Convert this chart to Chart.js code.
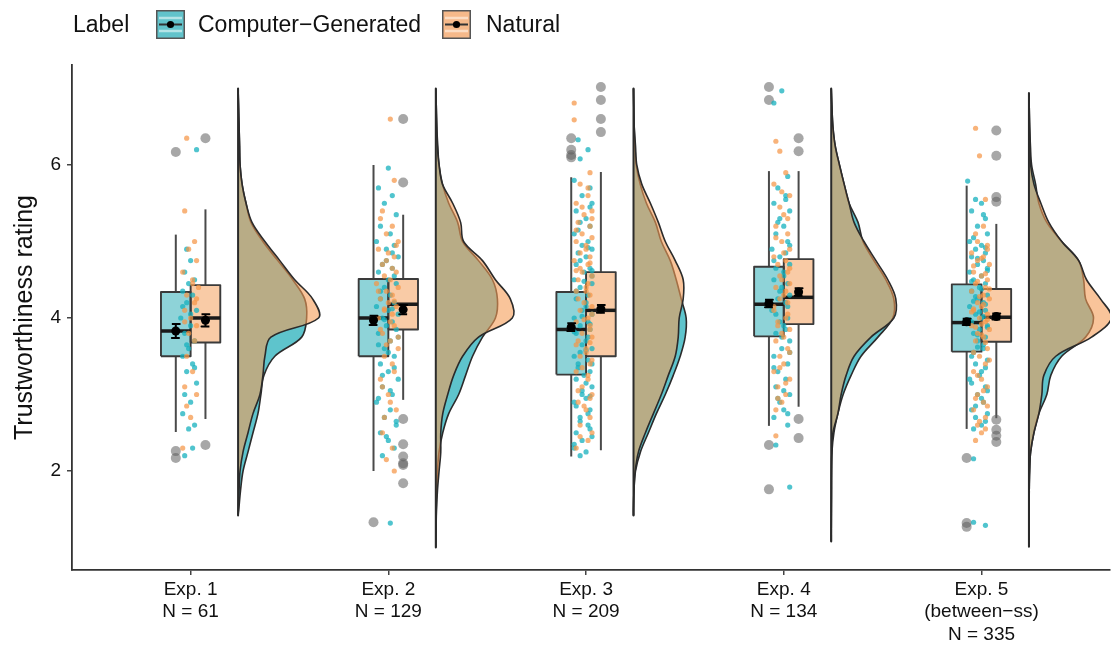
<!DOCTYPE html>
<html>
<head>
<meta charset="utf-8">
<script src="https://cdn.jsdelivr.net/npm/chart.js@4.4.1/dist/chart.umd.min.js"></script>
<style>
  body { margin: 0; background: #fff; }
  #wrap { position: relative; width: 1115px; height: 655px; font-family: 'Liberation Sans', Arial, sans-serif; color: #111; }
  #wrap canvas { position: absolute; left: 0; top: 0; }
  .lg { position: absolute; top: 8px; font-size: 23px; line-height: 32px; white-space: nowrap; }
  .key { position: absolute; top: 10px; }
</style>
</head>
<body>
<div id="wrap">
  <canvas id="chart" width="1115" height="655"></canvas>
  <span class="lg" style="left:73px">Label</span>
  <div id="legend"></div>
</div>
<script>
// categories and tick labels
const categories = ["Exp. 1", "Exp. 2", "Exp. 3", "Exp. 4", "Exp. 5"];
const categoryNotes = ["", "", "", "", "(between\u2212ss)"];
const sampleSizes = [61, 129, 209, 134, 335];
const yTicks = [2, 4, 6];
const seriesNames = ["Computer\u2212Generated", "Natural"];

// box stats: [lower whisker, q1, median, q3, upper whisker]
const boxCG = [[2.51, 3.50, 3.83, 4.34, 5.09], [2.00, 3.50, 4.00, 4.51, 6.00], [2.19, 3.26, 3.85, 4.34, 5.84], [2.59, 3.76, 4.18, 4.67, 5.92], [2.55, 3.56, 3.94, 4.44, 5.73]];
const boxNat = [[2.68, 3.68, 4.00, 4.43, 5.42], [2.93, 3.85, 4.18, 4.51, 5.35], [2.27, 3.50, 4.10, 4.60, 5.91], [2.84, 3.92, 4.27, 4.77, 5.92], [2.69, 3.69, 4.01, 4.38, 5.23]];

// means and standard errors
const meanCG = [3.83, 3.97, 3.88, 4.19, 3.95];
const seCG = [0.09, 0.06, 0.05, 0.05, 0.04];
const meanNat = [3.97, 4.11, 4.12, 4.34, 4.02];
const seNat = [0.08, 0.06, 0.05, 0.05, 0.04];

// outliers
const outCG = [[6.17, 2.26, 2.17], [1.33], [6.35, 6.20, 6.13, 6.10], [7.02, 6.85, 2.34, 1.76], [2.17, 1.32, 1.27]];
const outNat = [[6.35, 2.34], [6.60, 5.77, 2.68, 2.35, 2.19, 2.10, 2.08, 1.84], [7.02, 6.85, 6.60, 6.43], [6.35, 6.18, 2.68, 2.43], [6.45, 6.12, 5.58, 5.52, 2.67, 2.54, 2.46, 2.38]];

// density estimates (relative heights) on a rating grid
const densityGrid = [7, 6.75, 6.5, 6.25, 6, 5.75, 5.5, 5.25, 5, 4.75, 4.5, 4.25, 4, 3.75, 3.5, 3.25, 3, 2.75, 2.5, 2.25, 2, 1.75, 1.5, 1.25, 1];
const densityRange = [[1.42, 7.0], [1.0, 7.0], [1.42, 7.0], [1.08, 7.0], [1.01, 6.94]];
const densCG = [
  [0, 0.5, 1, 1.5, 2, 4, 8, 13, 25, 40, 55, 67, 69, 64, 37, 26, 23, 20, 15, 10, 5, 2.5, 0.7, 0, 0],
  [0, 0.5, 1, 2, 3.3, 6.7, 13, 22, 27, 43, 57, 62, 60, 47, 37, 30, 23, 13, 7, 3.3, 1.7, 1, 0.5, 0.3, 0],
  [0, 0.3, 0.7, 1.5, 2.7, 6.7, 13, 22, 28, 37, 43, 48, 53, 52, 47, 40, 32, 23, 15, 7, 2, 0.5, 0, 0, 0],
  [0, 0.7, 1.7, 4, 8.3, 13, 18, 27, 32, 43, 55, 63, 62, 47, 30, 20, 12, 6.7, 2.7, 0.7, 0.3, 0.2, 0.1, 0, 0],
  [0, 0.3, 0.7, 1.5, 2.7, 6.7, 10, 18, 33, 50, 55, 57, 65, 57, 33, 22, 18, 10, 5, 1.7, 0.7, 0.3, 0.2, 0.1, 0]
];
const densNat = [
  [0, 0.5, 1, 1.5, 2, 4, 8, 14, 27, 42, 57, 75, 81, 33, 27, 25, 22, 15, 10, 5, 2, 1, 0.3, 0, 0],
  [0, 0.5, 1, 1.5, 3.3, 6.7, 17, 25, 28, 47, 60, 75, 77, 43, 27, 18, 12, 7, 5, 5, 3.3, 1.7, 0.7, 0.3, 0],
  [0, 0.3, 0.7, 2, 3.3, 8.3, 17, 25, 32, 42, 50, 50, 46, 45, 42, 35, 28, 20, 12, 5, 1.7, 0.5, 0, 0, 0],
  [0, 0.7, 1.7, 4, 8.3, 13, 18, 23, 33, 45, 57, 65, 63, 40, 23, 15, 10, 6.7, 1.7, 0.7, 0.3, 0.2, 0.1, 0, 0],
  [0, 0.3, 0.7, 1.2, 1.7, 5, 12, 20, 33, 50, 58, 72, 83, 63, 27, 15, 13, 10, 5, 1.7, 0.7, 0.3, 0.2, 0.1, 0]
];

// raw ratings: [jitter offset, rating]
const ptsCG1 = [[0.03,6.2],[-0.02,4.9],[0.0,4.75],[-0.03,4.6],[0.02,4.5],[-0.01,4.45],[-0.04,4.35],[0.01,4.3],[-0.02,4.2],[0.03,4.1],[-0.05,4.0],[0.0,3.9],[-0.03,3.8],[0.02,3.7],[-0.01,3.6],[-0.04,3.5],[0.01,3.4],[-0.02,3.3],[0.03,3.15],[-0.03,3.0],[0.0,2.9],[-0.04,2.75],[0.02,2.6],[-0.01,2.55],[0.01,2.3],[-0.03,2.2],
  [0.0,4.05],[-0.02,3.65],[0.02,3.35],[-0.04,4.15]];
const ptsNat1 = [[-0.02,6.35],[-0.03,5.4],[0.02,5.0],[-0.01,4.9],[0.03,4.75],[-0.04,4.6],[0.01,4.5],[0.04,4.4],[-0.02,4.3],[0.02,4.2],[-0.03,4.1],[0.0,4.0],[0.03,3.9],[-0.01,3.8],[0.02,3.7],[-0.02,3.5],[0.01,3.3],[-0.03,3.1],[0.03,3.0],[-0.02,2.85],[0.0,2.7],[-0.04,2.3],
  [0.01,4.45],[-0.03,3.95],[0.03,4.25]];
const ptsCG2 = [[0.0,5.96],[-0.05,5.7],[0.02,5.6],[-0.02,5.5],[0.04,5.35],[-0.04,5.2],[0.01,5.1],[-0.06,5.0],[0.03,4.95],[-0.01,4.9],[0.05,4.8],[-0.03,4.7],[0.02,4.65],[-0.05,4.6],[0.0,4.5],[0.04,4.45],[-0.02,4.4],[0.01,4.3],[-0.04,4.25],[0.03,4.2],[-0.06,4.15],[0.0,4.1],[0.05,4.05],[-0.03,4.0],[0.02,3.95],[-0.01,3.9],[0.04,3.85],[-0.05,3.8],[0.01,3.7],[-0.02,3.6],[0.03,3.5],[-0.04,3.4],[0.0,3.3],[0.05,3.2],[-0.03,3.1],[0.02,3.0],[-0.06,2.9],[0.01,2.8],[-0.02,2.7],[0.04,2.6],[-0.04,2.5],[0.0,2.4],[0.03,2.3],[-0.03,2.2],[0.01,1.32],
  [-0.01,4.75],[0.03,4.55],[-0.04,4.35],[0.02,4.12],[-0.02,3.98],[0.05,3.75],[-0.05,3.65],[0.0,3.55],[0.03,3.35],[-0.03,3.25],[0.01,3.05],[-0.05,2.95],[0.04,2.65],[-0.01,2.45],[0.02,4.85]];
const ptsNat2 = [[0.01,6.6],[0.03,5.8],[-0.04,5.3],[0.02,5.2],[-0.01,5.1],[0.05,5.0],[-0.05,4.9],[0.0,4.85],[0.03,4.8],[-0.03,4.7],[0.04,4.6],[-0.02,4.55],[0.01,4.5],[-0.06,4.45],[0.05,4.4],[-0.01,4.35],[0.02,4.3],[-0.04,4.25],[0.0,4.2],[0.04,4.15],[-0.02,4.1],[0.02,4.05],[-0.05,4.0],[0.03,3.9],[-0.03,3.8],[0.01,3.7],[0.05,3.6],[-0.02,3.5],[0.02,3.4],[-0.04,3.2],[0.0,3.0],[0.04,2.8],[-0.03,2.5],[0.02,2.3],[-0.01,2.15],[0.03,2.0],
  [-0.03,5.4],[0.04,4.95],[-0.01,4.75],[0.02,4.65],[-0.05,4.35],[0.03,4.22],[-0.02,4.12],[0.01,3.95],[-0.04,3.85],[0.05,3.75],[-0.01,3.65],[0.03,3.3],[-0.03,3.1],[0.01,2.9],[-0.02,2.7]];
const ptsCG3 = [[-0.04,6.33],[0.01,6.2],[-0.03,6.08],[-0.06,5.8],[0.02,5.7],[-0.02,5.6],[0.03,5.5],[-0.05,5.4],[0.0,5.3],[-0.03,5.25],[0.02,5.2],[-0.06,5.1],[0.01,5.0],[-0.02,4.95],[0.03,4.9],[-0.04,4.85],[0.0,4.8],[-0.05,4.7],[0.02,4.65],[-0.01,4.6],[-0.06,4.5],[0.03,4.45],[-0.03,4.4],[0.01,4.3],[-0.05,4.25],[0.0,4.2],[-0.02,4.1],[0.03,4.05],[-0.06,4.0],[0.01,3.95],[-0.03,3.9],[0.02,3.85],[-0.05,3.8],[0.0,3.7],[-0.02,3.65],[0.03,3.6],[-0.06,3.5],[0.01,3.45],[-0.04,3.4],[0.02,3.3],[-0.01,3.25],[-0.05,3.2],[0.03,3.1],[-0.02,3.0],[0.0,2.95],[-0.06,2.9],[0.02,2.8],[-0.03,2.7],[0.01,2.6],[-0.05,2.5],[0.03,2.45],[-0.02,2.4],[-0.06,2.3],[0.0,2.25],[-0.03,2.2],
  [0.02,5.45],[-0.04,5.15],[0.01,4.92],[-0.03,4.75],[0.03,4.55],[-0.05,4.35],[0.0,4.15],[-0.02,4.02],[0.02,3.92],[-0.06,3.82],[0.01,3.75],[-0.03,3.55],[0.03,3.4],[-0.04,3.35],[0.0,3.15],[-0.02,3.05],[0.02,2.98],[-0.05,2.85],[0.01,2.75],[-0.03,2.65],[0.02,2.55],[-0.06,2.35],[0.0,3.58],[-0.01,4.48],[0.03,4.62]];
const ptsNat3 = [[-0.06,6.81],[-0.06,6.59],[0.02,5.9],[-0.03,5.75],[0.01,5.6],[-0.05,5.5],[0.03,5.4],[-0.01,5.35],[-0.04,5.25],[0.02,5.2],[-0.02,5.1],[0.03,5.05],[-0.05,5.0],[0.0,4.9],[-0.03,4.85],[0.02,4.8],[-0.06,4.75],[0.01,4.7],[-0.02,4.6],[0.03,4.55],[-0.04,4.5],[0.0,4.4],[-0.05,4.35],[0.02,4.3],[-0.01,4.2],[0.03,4.15],[-0.03,4.1],[0.01,4.0],[-0.05,3.95],[0.02,3.9],[-0.02,3.8],[0.03,3.75],[-0.04,3.7],[0.0,3.6],[-0.03,3.5],[0.02,3.4],[-0.05,3.3],[0.01,3.2],[-0.02,3.1],[0.03,3.0],[-0.04,2.9],[0.0,2.8],[0.02,2.7],[-0.03,2.6],[0.01,2.4],[-0.05,2.3],
  [0.01,5.7],[-0.02,5.45],[0.03,5.3],[-0.05,5.15],[0.0,4.95],[0.02,4.72],[-0.03,4.65],[0.01,4.45],[-0.04,4.25],[0.03,4.05],[-0.01,3.98],[0.02,3.85],[-0.05,3.65],[0.0,3.55],[0.03,3.45],[-0.02,3.35],[0.01,3.25],[-0.04,3.05],[0.02,2.95],[-0.01,2.85],[0.03,2.5],[-0.03,2.45],[0.0,4.35],[-0.05,4.62],[0.02,3.68]];
const ptsCG4 = [[-0.01,6.97],[-0.05,6.81],[0.02,5.85],[-0.03,5.7],[0.01,5.6],[-0.05,5.5],[0.03,5.4],[-0.02,5.3],[0.0,5.2],[-0.04,5.1],[0.02,5.0],[-0.06,4.9],[0.01,4.85],[-0.02,4.8],[0.03,4.7],[-0.04,4.65],[0.0,4.6],[-0.05,4.5],[0.02,4.45],[-0.01,4.4],[0.03,4.3],[-0.03,4.25],[0.01,4.2],[-0.06,4.1],[0.02,4.0],[-0.02,3.95],[0.0,3.9],[-0.04,3.8],[0.03,3.7],[-0.01,3.6],[-0.05,3.5],[0.02,3.4],[-0.03,3.3],[0.01,3.2],[-0.04,3.1],[0.03,3.0],[-0.02,2.9],[0.0,2.8],[-0.05,2.7],[0.02,2.6],[-0.04,2.34],[0.03,1.79],
  [0.01,5.55],[-0.03,5.25],[0.03,4.95],[-0.05,4.75],[0.0,4.55],[-0.02,4.35],[0.02,4.15],[-0.04,4.05],[0.01,3.85],[-0.01,3.75],[0.03,3.55],[-0.05,3.35],[0.0,3.05],[-0.03,2.95],[0.02,2.75]];
const ptsNat4 = [[-0.04,6.31],[-0.02,6.18],[0.01,5.9],[-0.05,5.75],[0.03,5.6],[-0.02,5.45],[0.0,5.35],[-0.04,5.2],[0.02,5.1],[-0.01,5.0],[0.03,4.9],[-0.05,4.8],[0.01,4.75],[-0.03,4.7],[0.02,4.6],[-0.01,4.5],[0.03,4.45],[-0.04,4.4],[0.0,4.3],[-0.02,4.25],[0.02,4.2],[-0.05,4.1],[0.01,4.0],[-0.03,3.9],[0.03,3.85],[-0.01,3.8],[-0.04,3.7],[0.02,3.6],[-0.02,3.5],[0.0,3.4],[-0.05,3.3],[0.03,3.2],[-0.03,3.1],[0.01,3.0],[-0.01,2.9],[-0.04,2.8],[-0.04,2.46],
  [-0.01,5.65],[0.02,5.3],[-0.04,5.05],[0.0,4.85],[0.03,4.65],[-0.02,4.55],[0.01,4.35],[-0.05,4.15],[0.02,4.05],[-0.03,3.95],[0.0,3.75],[0.03,3.55],[-0.02,3.35],[0.01,3.15],[-0.03,2.95]];
const ptsCG5 = [[-0.07,5.79],[-0.03,5.55],[0.0,5.5],[-0.05,5.4],[0.02,5.3],[-0.02,5.2],[0.03,5.1],[-0.06,5.0],[0.0,4.95],[-0.03,4.9],[0.02,4.85],[-0.05,4.8],[0.01,4.75],[-0.02,4.7],[0.03,4.65],[-0.06,4.6],[0.0,4.55],[-0.04,4.5],[0.02,4.45],[-0.01,4.4],[-0.05,4.35],[0.03,4.3],[-0.02,4.25],[0.01,4.2],[-0.06,4.15],[0.02,4.1],[-0.03,4.05],[0.0,4.0],[-0.05,3.95],[0.03,3.9],[-0.01,3.85],[-0.04,3.8],[0.02,3.75],[-0.02,3.7],[0.01,3.6],[-0.05,3.5],[0.03,3.45],[-0.03,3.4],[0.0,3.3],[-0.06,3.2],[0.02,3.1],[-0.02,3.0],[0.01,2.9],[-0.05,2.8],[0.03,2.75],[-0.03,2.7],[0.0,2.6],[-0.04,2.55],[-0.04,2.16],[-0.04,1.33],[0.02,1.29],
  [0.01,5.35],[-0.04,5.05],[0.02,4.92],[-0.02,4.78],[0.03,4.62],[-0.05,4.48],[0.0,4.38],[-0.03,4.28],[0.02,4.18],[-0.01,4.08],[-0.06,3.98],[0.03,3.88],[-0.02,3.78],[0.01,3.65],[-0.04,3.55],[0.02,3.35],[-0.01,3.25],[-0.05,3.15],[0.03,3.05],[0.0,2.95],[-0.03,2.85],[0.02,2.65],[-0.02,3.62],[0.01,4.02],[-0.04,4.22]];
const ptsNat5 = [[-0.03,6.48],[-0.01,6.12],[0.02,5.55],[-0.02,5.0],[0.03,4.9],[-0.05,4.85],[0.01,4.8],[-0.02,4.75],[0.04,4.7],[-0.04,4.6],[0.0,4.55],[0.03,4.5],[-0.03,4.45],[0.02,4.4],[-0.05,4.35],[0.01,4.3],[0.04,4.25],[-0.02,4.2],[0.0,4.15],[-0.04,4.1],[0.03,4.05],[-0.01,4.0],[0.02,3.95],[-0.05,3.9],[0.04,3.85],[-0.02,3.8],[0.01,3.75],[-0.03,3.7],[0.03,3.6],[-0.01,3.5],[0.02,3.4],[-0.04,3.3],[0.0,3.2],[0.03,3.1],[-0.02,3.0],[0.01,2.9],[-0.04,2.8],[0.02,2.7],[-0.02,2.6],[0.0,2.5],[-0.03,2.4],
  [0.01,5.2],[-0.03,5.1],[0.03,4.95],[0.0,4.78],[-0.04,4.68],[0.02,4.58],[-0.02,4.48],[0.04,4.38],[-0.01,4.28],[0.01,4.18],[-0.05,4.08],[0.03,3.98],[-0.03,3.88],[0.0,3.78],[0.02,3.68],[-0.04,3.55],[0.04,3.45],[-0.02,3.25],[0.01,3.05],[-0.03,2.95],[0.03,2.85],[-0.01,2.65],[0.02,2.55],[-0.04,4.12],[0.0,3.92]];

// layout of the marks around each category
const BOX_W = 0.15, WHISK = 0.075, DENS_OFF = 0.24, DENS_SCALE = 1 / 199, CAP = 0.02;

const groups = [
  { box: boxCG, mean: meanCG, se: seCG, out: outCG, dens: densCG, pts: [ptsCG1, ptsCG2, ptsCG3, ptsCG4, ptsCG5], side: -1,
    boxFill: "#8ED3D8", densFill: "#5EC4CC", point: "rgba(22,176,190,0.75)", key: "#62C3CB", keyStripe: "#B5E4E7" },
  { box: boxNat, mean: meanNat, se: seNat, out: outNat, dens: densNat, pts: [ptsNat1, ptsNat2, ptsNat3, ptsNat4, ptsNat5], side: 1,
    boxFill: "#F9CBA6", densFill: "rgba(245,157,87,0.6)", point: "rgba(245,150,70,0.72)", key: "#F6B98A", keyStripe: "#FCDDC4" }
];

const line = (data, extra) => Object.assign({ type: "line", data, pointRadius: 0, tension: 0, fill: false, borderJoinStyle: "round" }, extra);
const datasets = [];

categories.forEach((cat, i) => {
  const c = i + 1;
  const base = c + DENS_OFF;
  const [lo, hi] = densityRange[i];

  groups.forEach((g, gi) => {
    // half-eye density
    const dpts = [{ x: base, y: hi }];
    densityGrid.forEach((v, k) => {
      if (v < hi && v > lo) dpts.push({ x: base + g.dens[i][k] * DENS_SCALE, y: v });
    });
    dpts.push({ x: base, y: lo });
    datasets.push(line(dpts, { tension: 0.35, fill: { value: base }, backgroundColor: g.densFill, borderColor: "#2b2b2b", borderWidth: 1.6, order: 100 - gi }));

    const left = g.side < 0 ? c - BOX_W : c;
    const right = g.side < 0 ? c : c + BOX_W;
    const mid = c + g.side * WHISK;
    const [wl, q1, med, q3, wh] = g.box[i];

    datasets.push(line([{ x: mid, y: wl }, { x: mid, y: wh }], { borderColor: "#4a4a4a", borderWidth: 2, order: 90 }));
    datasets.push(line([{ x: right, y: q3 }, { x: right, y: q1 }], { fill: { value: left }, backgroundColor: g.boxFill, borderWidth: 0, order: 80 }));
    datasets.push(line([{ x: left, y: q1 }, { x: left, y: q3 }, { x: right, y: q3 }, { x: right, y: q1 }, { x: left, y: q1 }], { borderColor: "#3a3a3a", borderWidth: 1.9, order: 79 }));
    datasets.push(line([{ x: left, y: med }, { x: right, y: med }], { borderColor: "#1a1a1a", borderWidth: 3.5, borderCapStyle: "butt", order: 78 }));

    datasets.push(line(g.out[i].map(v => ({ x: mid, y: v })), { showLine: false, pointRadius: 5, pointBorderWidth: 0, pointBackgroundColor: "rgba(95,95,95,0.55)", order: 70 }));
    datasets.push(line(g.pts[i].map(([dx, v]) => ({ x: c + dx, y: v })), { showLine: false, pointRadius: 2.6, pointBorderWidth: 0, pointBackgroundColor: g.point, order: 61 - gi }));

    const m = g.mean[i], s = g.se[i];
    datasets.push(line([{ x: mid - CAP, y: m + s }, { x: mid + CAP, y: m + s }, { x: mid, y: m + s }, { x: mid, y: m - s }, { x: mid - CAP, y: m - s }, { x: mid + CAP, y: m - s }],
      { borderColor: "#000", borderWidth: 2, order: 51 }));
    datasets.push(line([{ x: mid, y: m }], { showLine: false, pointRadius: 4.5, pointBorderWidth: 0, pointBackgroundColor: "#000", order: 50 }));
  });

  // density baseline
  datasets.push(line([{ x: base, y: hi }, { x: base, y: lo }], { borderColor: "#2b2b2b", borderWidth: 2, order: 97 }));
});

// legend
const legend = document.getElementById("legend");
const keyLeft = [156, 442], textLeft = [198, 486];
groups.forEach((g, gi) => {
  legend.insertAdjacentHTML("beforeend",
    `<svg class="key" style="left:${keyLeft[gi]}px" width="29" height="29">
      <rect x="0.75" y="0.75" width="27.5" height="27.5" fill="${g.key}" stroke="#555" stroke-width="1.5"/>
      <line x1="3" y1="8" x2="26" y2="8" stroke="${g.keyStripe}" stroke-width="2.5"/>
      <line x1="3" y1="21" x2="26" y2="21" stroke="${g.keyStripe}" stroke-width="2.5"/>
      <line x1="3" y1="14.5" x2="26" y2="14.5" stroke="#333" stroke-width="2"/>
      <circle cx="14.5" cy="14.5" r="3.6" fill="#000"/>
    </svg><span class="lg" style="left:${textLeft[gi]}px">${seriesNames[gi]}</span>`);
});

Chart.defaults.font.family = "'Liberation Sans', Arial, sans-serif";
Chart.defaults.color = "#111";

new Chart(document.getElementById("chart"), {
  type: "line",
  data: { datasets },
  options: {
    indexAxis: "y",
    responsive: false,
    animation: false,
    events: [],
    layout: { padding: { top: 65, left: 0, right: 0, bottom: 0 } },
    plugins: { legend: { display: false }, tooltip: { enabled: false } },
    scales: {
      x: {
        type: "linear",
        min: 0.4,
        max: 5.65,
        afterFit: s => { s.height = 85; },
        afterBuildTicks: s => { s.ticks = categories.map((_, i) => ({ value: i + 1 })); },
        grid: { drawOnChartArea: false, tickLength: 5, color: "#444", lineWidth: 1.5 },
        border: { color: "#333", width: 1.8 },
        ticks: {
          autoSkip: false,
          maxRotation: 0,
          padding: 3,
          font: { size: 19, lineHeight: 1.2 },
          color: "#111",
          callback: (v, i) => [categories[i], categoryNotes[i], "N = " + sampleSizes[i]].filter(t => t)
        }
      },
      y: {
        type: "linear",
        min: 0.706,
        max: 7.307,
        afterFit: s => { s.width = 72; },
        afterBuildTicks: s => { s.ticks = yTicks.map(v => ({ value: v })); },
        grid: { drawOnChartArea: false, tickLength: 5, color: "#444", lineWidth: 1.5 },
        border: { color: "#333", width: 1.8 },
        ticks: { padding: 6, font: { size: 19 }, color: "#111" },
        title: { display: true, text: "Trustworthiness rating", font: { size: 25 }, color: "#111", padding: { top: 10, bottom: 0 } }
      }
    }
  }
});
</script>
</body>
</html>
